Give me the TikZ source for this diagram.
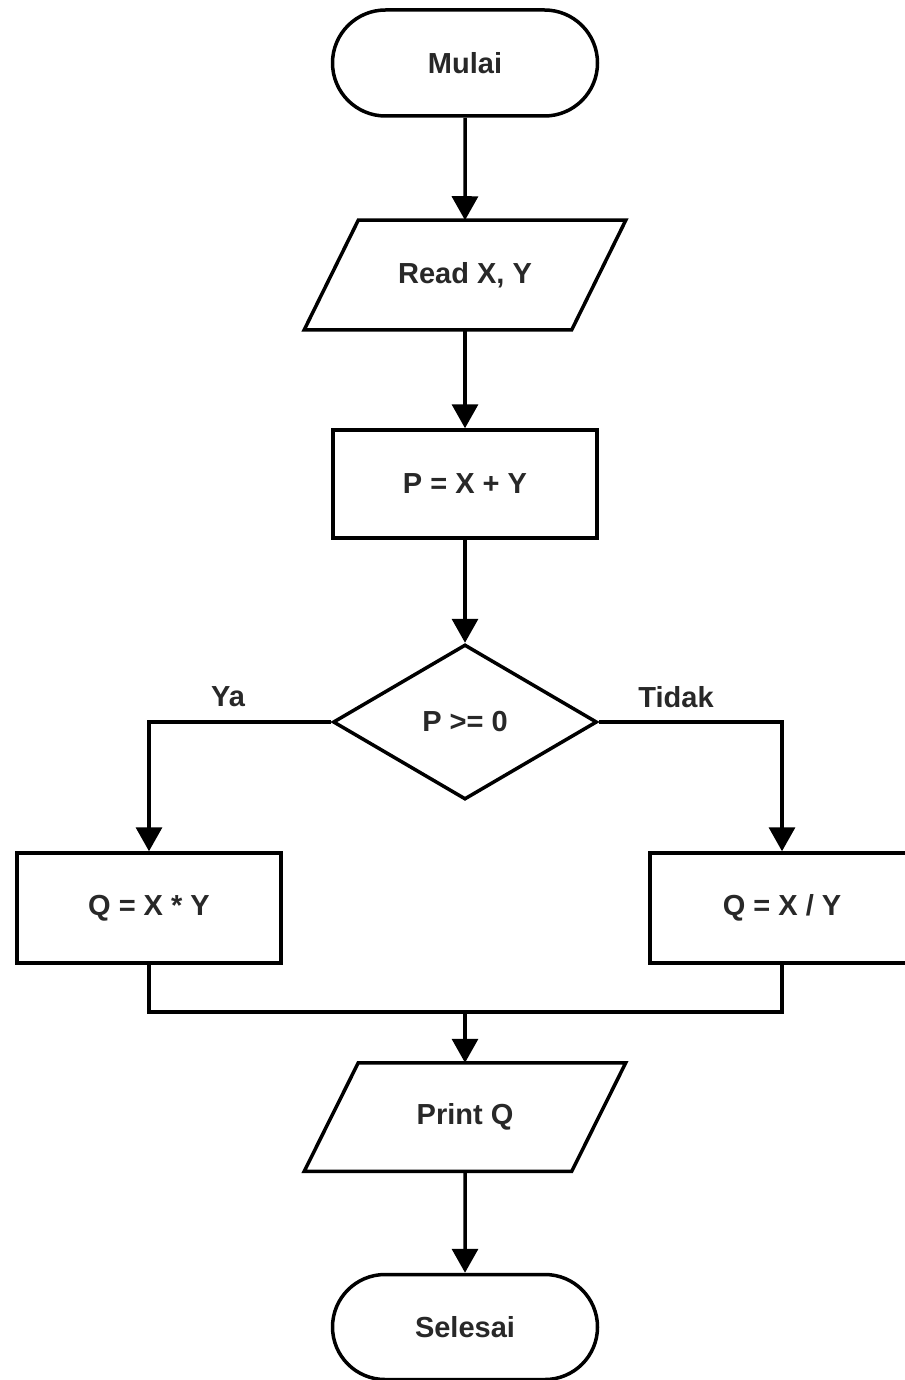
\documentclass[tikz,border=0pt]{standalone}
\usepackage{fontspec}
\setmainfont{Liberation Sans}
\usetikzlibrary{shapes.misc,shapes.geometric,arrows.meta}
\definecolor{txt}{RGB}{40,40,40}
\begin{document}
\begin{tikzpicture}[x=1pt,y=-1pt,
  base/.style={line width=3.5pt, draw=black, inner sep=0pt, text=txt,
    font=\fontsize{29}{34}\selectfont\bfseries},
  term/.style={base, rounded rectangle, minimum width=265pt, minimum height=106pt},
  procbox/.style={base, rectangle, minimum width=264pt, minimum height=108pt},
  iobox/.style={base, draw=none, rectangle, minimum width=264pt, minimum height=106pt},
  decbox/.style={base, diamond, minimum width=264pt, minimum height=155pt},
  lbl/.style={text=txt, font=\fontsize{29}{34}\selectfont\bfseries, inner sep=0pt},
  conn/.style={line width=3.5pt, draw=black},
  arr/.style={conn, -{Triangle[width=26pt,length=24pt]}}
]
\useasboundingbox (0,0) rectangle (904,1380);
\fill[white] (0,0) rectangle (904,1380);

\node[term] (start) at (465,63) {Mulai};
\node[iobox] (read) at (465,275) {Read X, Y};
\draw[conn, line join=miter] ([xshift=27pt]read.north west) -- ([xshift=27pt]read.north east)
  -- ([xshift=-27pt]read.south east) -- ([xshift=-27pt]read.south west) -- cycle;
\node[procbox] (proc) at (465,484) {P = X + Y};
\node[decbox] (dec) at (465,722) {P >= 0};
\node[procbox, minimum height=110pt] (left) at (149,908) {Q = X * Y};
\node[procbox, minimum height=110pt] (right) at (782,908) {Q = X / Y};
\coordinate (merge) at (465,1012);
\node[iobox, minimum height=105pt] (print) at (465,1117) {Print Q};
\draw[conn, line join=miter] ([xshift=27pt]print.north west) -- ([xshift=27pt]print.north east)
  -- ([xshift=-27pt]print.south east) -- ([xshift=-27pt]print.south west) -- cycle;
\node[term, minimum height=105pt] (stop) at (465,1327) {Selesai};

\node[lbl] (ya) at (228,697) {Ya};
\node[lbl] (tidak) at (676,697) {Tidak};

\draw[arr] (start) -- (read.north);
\draw[arr] (read.south) -- (proc);
\draw[arr] (proc) -- (dec);
\draw[arr] (dec.west) -| (left.north);
\draw[arr] (dec.east) -| (right.north);
\draw[conn] (left.south) |- (merge) -| (right.south);
\draw[arr] (merge) -- (print.north);
\draw[arr] (print.south) -- (stop);
\end{tikzpicture}
\end{document}
